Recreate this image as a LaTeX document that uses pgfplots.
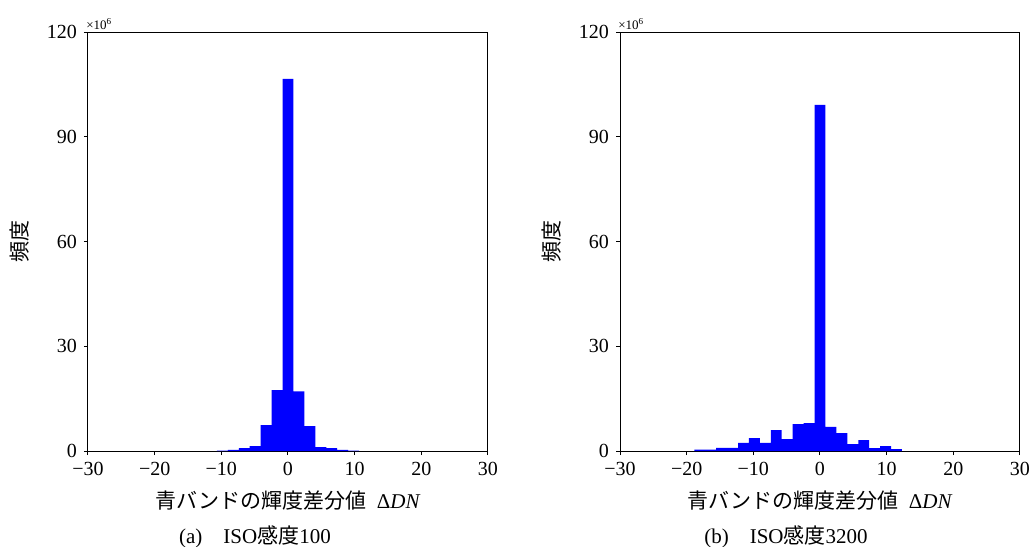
\documentclass[border=0pt]{standalone}
\usepackage{fontspec}
\setmainfont{Liberation Serif}
\newfontfamily\jp{Noto Sans CJK JP}
\usepackage{pgfplots}
\pgfplotsset{compat=1.18}

\pgfplotsset{
  histo/.style={
    width=200pt, height=209.5pt, scale only axis,
    clip mode=individual,
    xmin=-30, xmax=30, ymin=0, ymax=120,
    xtick={-30,-20,-10,0,10,20,30},
    xticklabels={−30,−20,−10,0,10,20,30},
    ytick={0,30,60,90,120},
    tick align=outside, tick pos=left,
    major tick length=2pt,
    axis line style={line width=0.5pt},
    every tick/.style={line width=0.5pt, black},
    /pgf/number format/assume math mode=true,
    tick label style={font=\fontsize{10}{12}\selectfont},
    label style={font=\fontsize{10.5}{12}\selectfont},
    xlabel={{\jp 青バンドの輝度差分値}\ \ Δ\textit{DN}},
    ylabel={\jp 頻度},
    xlabel style={yshift=-1pt},
    ylabel style={yshift=2pt},
  }
}

\begin{document}
\begin{tikzpicture}
\useasboundingbox (-44pt,-48pt) rectangle (471pt,225.5pt);

% (a) ISO 100
\begin{axis}[histo]
\addplot[ybar interval, fill=blue, draw=none] coordinates {
  (-10.66,0.1) (-9.02,0.3) (-7.38,0.86) (-5.74,1.4) (-4.10,7.4)
  (-2.46,17.4) (-0.82,106.6) (0.82,17.1) (2.46,7.1) (4.10,1.1)
  (5.74,0.86) (7.38,0.3) (9.02,0.1) (10.66,0.1)
};
\node[anchor=south west, inner sep=1pt, font=\fontsize{6.5}{7}\selectfont]
  at (rel axis cs:-0.01,1) {×10\textsuperscript{6}};
\node[font=\fontsize{10.5}{12}\selectfont] at (rel axis cs:0.4175,-0.205)
  {(a)\hspace{1em}ISO{\jp 感度}100};
\end{axis}

% (b) ISO 3200
\begin{axis}[histo, xshift=266pt]
\addplot[ybar interval, fill=blue, draw=none] coordinates {
  (-18.86,0.4) (-17.22,0.4) (-15.58,0.9) (-13.94,0.9) (-12.30,2.3)
  (-10.66,3.7) (-9.02,2.3) (-7.38,6.0) (-5.74,3.4) (-4.10,7.7)
  (-2.46,8.0) (-0.82,99.1) (0.82,6.9) (2.46,5.1) (4.10,2.0)
  (5.74,3.1) (7.38,0.86) (9.02,1.4) (10.66,0.57) (12.30,0.57)
};
\node[anchor=south west, inner sep=1pt, font=\fontsize{6.5}{7}\selectfont]
  at (rel axis cs:-0.01,1) {×10\textsuperscript{6}};
\node[font=\fontsize{10.5}{12}\selectfont] at (rel axis cs:0.415,-0.205)
  {(b)\hspace{1em}ISO{\jp 感度}3200};
\end{axis}
\end{tikzpicture}
\end{document}
